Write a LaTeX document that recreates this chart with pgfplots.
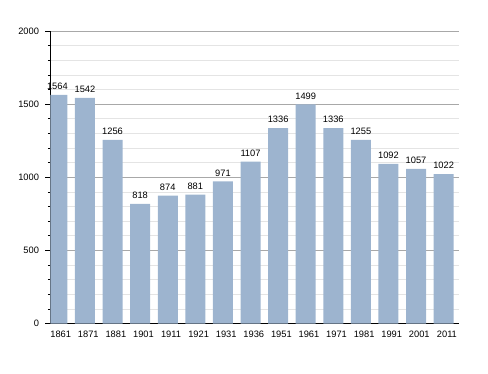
\documentclass[border=0pt]{standalone}
\usepackage{pgfplots}
\pgfplotsset{compat=1.18}
\usepackage{fontspec}
\setmainfont{Liberation Sans}
\definecolor{barblue}{HTML}{9DB4CF}
\definecolor{majgrid}{HTML}{A8A8A8}
\definecolor{mingrid}{HTML}{E4E4E4}
\begin{document}
\begin{tikzpicture}
\begin{axis}[
  scale only axis,
  width=408pt, height=292.5pt,
  xmin=-0.37, xmax=14.42,
  ymin=0, ymax=2000,
  axis x line*=bottom, axis y line*=left,
  axis line style={black, line width=0.8pt, -},
  xtick=data,
  xticklabels={1861,1871,1881,1901,1911,1921,1931,1936,1951,1961,1971,1981,1991,2001,2011},
  x tick style={draw=none},
  x tick label style={yshift=1pt},
  ytick={0,500,1000,1500,2000},
  minor y tick num=4,
  tick align=outside,
  major tick length=5pt,
  minor tick length=2.5pt,
  y tick style={black, line width=0.6pt},
  ymajorgrids, yminorgrids,
  major grid style={majgrid, line width=0.7pt},
  minor grid style={mingrid, line width=0.6pt},
  tick label style={font=\fontsize{9.3}{11}\selectfont},
  y tick label style={xshift=-3pt},
  /pgf/number format/assume math mode=true,
  /pgf/number format/set thousands separator={},
  ybar, bar width=20pt, bar shift=-3.3pt,
  nodes near coords,
  every node near coord/.append style={font=\fontsize{9.3}{11}\selectfont, black, yshift=1.5pt},
]
\addplot[fill=barblue, draw=none] coordinates {
 (0,1564) (1,1542) (2,1256) (3,818) (4,874) (5,881) (6,971) (7,1107)
 (8,1336) (9,1499) (10,1336) (11,1255) (12,1092) (13,1057) (14,1022)};
\end{axis}
\path[use as bounding box] ([xshift=-50.5pt,yshift=-49.5pt]current axis.south west) rectangle ++(488pt,373pt);
\end{tikzpicture}
\end{document}
